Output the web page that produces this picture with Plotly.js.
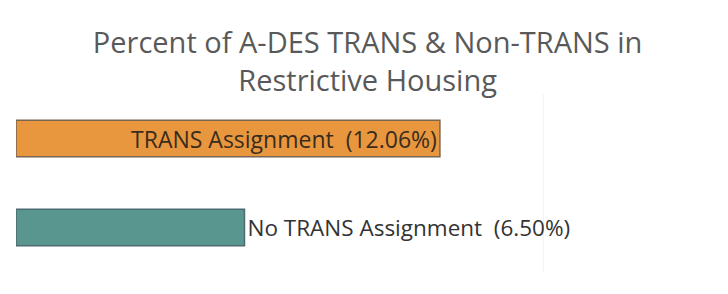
<!DOCTYPE html>
<html>
<head>
<meta charset="utf-8">
<script src="https://cdn.plot.ly/plotly-3.0.1.min.js"></script>
<style>html,body{margin:0;padding:0;background:#fff;}#chart{width:728px;height:294px;}</style>
</head>
<body>
<div id="chart"></div>
<script>
const categories = ["TRANS Assignment", "No TRANS Assignment"];
const percentValues = [12.06, 6.50];
const barColors = ["#E8973F", "#5A9690"];
const outlineColors = ["#7a6550", "#4d6b70"];
const textPositions = ["inside", "outside"];

const labels = categories.map((c, i) => c + "\u00a0\u00a0(" + percentValues[i].toFixed(2) + "%)");

const trace = {
  type: "bar",
  orientation: "h",
  y: categories,
  x: percentValues,
  width: 0.41,
  marker: { color: barColors, line: { color: outlineColors, width: 1.5 } },
  text: labels,
  textposition: textPositions,
  insidetextanchor: "end",
  constraintext: "none",
  insidetextfont: { family: "Open Sans, sans-serif", size: 23, color: "#3a2c1c" },
  outsidetextfont: { family: "Open Sans, sans-serif", size: 22.5, color: "#333333" },
  cliponaxis: false,
  hoverinfo: "none"
};

const layout = {
  width: 728,
  height: 294,
  margin: { l: 16, r: 9, t: 94, b: 22 },
  paper_bgcolor: "#ffffff",
  plot_bgcolor: "#ffffff",
  showlegend: false,
  title: {
    text: "Percent of A-DES TRANS & Non-TRANS in<br>Restrictive Housing",
    font: { family: "Open Sans, sans-serif", size: 29, color: "#595959" },
    x: 0.505,
    xanchor: "center",
    y: 0.82,
    yanchor: "top"
  },
  xaxis: {
    range: [0, 20],
    tick0: 0,
    dtick: 15,
    showgrid: true,
    gridcolor: "#f3f3f3",
    zeroline: false,
    showticklabels: false,
    ticks: "",
    fixedrange: true
  },
  yaxis: {
    autorange: "reversed",
    showgrid: false,
    zeroline: false,
    showticklabels: false,
    ticks: "",
    fixedrange: true
  }
};

Plotly.newPlot("chart", [trace], layout, { displayModeBar: false, staticPlot: true });
</script>
</body>
</html>
